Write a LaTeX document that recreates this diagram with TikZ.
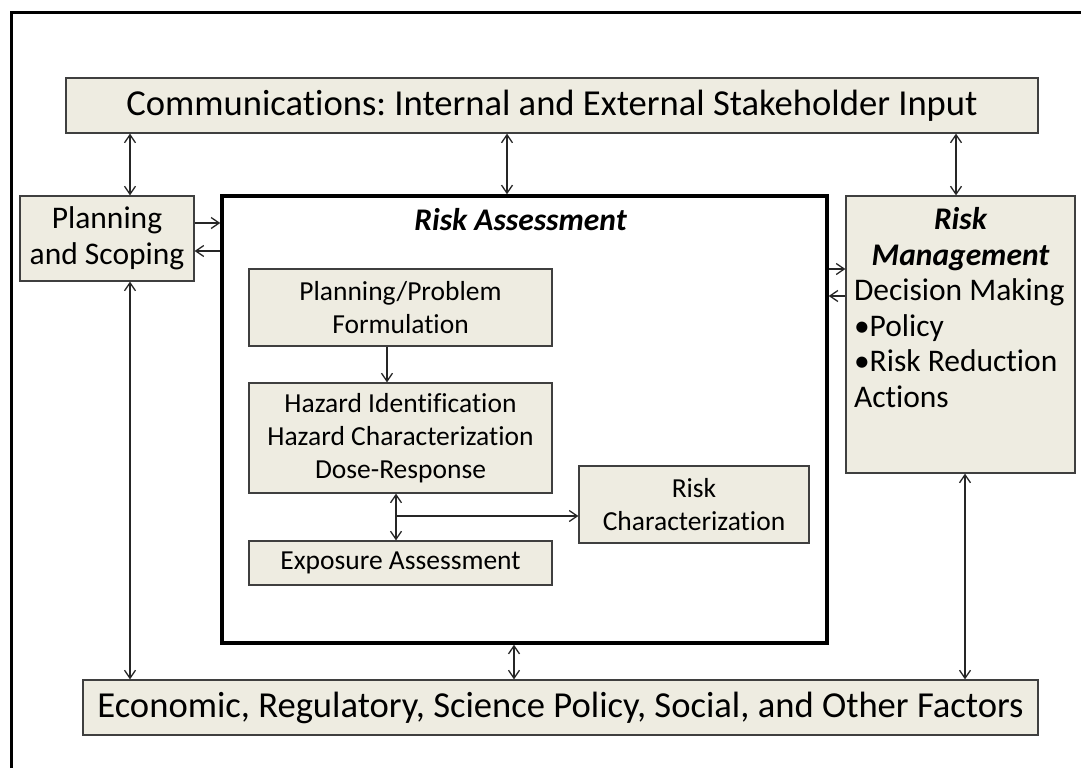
\documentclass[tikz,border=0pt]{standalone}
\usepackage{fontspec}
\setmainfont{Carlito}[Ligatures={NoCommon}]
\usepackage{tikz}
\usetikzlibrary{arrows.meta}
\definecolor{tanfill}{HTML}{EEECE1}
\definecolor{boxline}{HTML}{3F3F3F}
\frenchspacing

\begin{document}
\begin{tikzpicture}[x=1pt,y=1pt,yscale=-1,xscale=1,
    >={Straight Barb[length=8pt,width=11pt]},
    box/.style={draw=boxline,line width=1.3pt,fill=tanfill,inner sep=0pt,align=center},
    bigtext/.style={font=\fontsize{36.6}{44}\selectfont},
    midtext/.style={font=\fontsize{31.5}{35.5}\selectfont},
    smalltext/.style={font=\fontsize{27.5}{33}\selectfont},
    link/.style={line width=1.3pt,draw=black!85}]
    \useasboundingbox (0,0) rectangle (1081,768);

    %Frame
    \draw[line width=3pt] (11,768) -- (11,13) -- (1081,13);

    %Shape: Outer boxes
    \node[box,bigtext,minimum width=972pt,minimum height=55pt] (comm) at (552,105.5)
        {Communications: Internal and External Stakeholder Input};
    \node[box,bigtext,minimum width=955pt,minimum height=55pt] (econ) at (560.5,707.5)
        {Economic, Regulatory, Science Policy, Social, and Other Factors};
    \node[box,midtext,minimum width=174pt,minimum height=85pt] (plan) at (107,238.5)
        {Planning\\and Scoping};
    \node[box,minimum width=229pt,minimum height=277pt,
        label={[midtext,anchor=north,yshift=-12pt,inner sep=0pt,align=left]north:
        \makebox[213pt][c]{\bfseries\itshape Risk}\\
        \makebox[213pt][c]{\bfseries\itshape Management}\\
        Decision Making\\
        \textbullet Policy\\
        \textbullet Risk Reduction\\
        Actions}] (rm) at (960.5,334.5) {};

    %Shape: Risk assessment frame
    \node[draw,line width=3.5pt,minimum width=605pt,minimum height=447pt,inner sep=0pt,
        label={[midtext,anchor=north,yshift=-14pt,xshift=-4pt,inner sep=0pt]north:\bfseries\itshape Risk Assessment}]
        (ra) at (524.5,419.5) {};

    %Shape: Inner boxes
    \node[box,smalltext,minimum width=303pt,minimum height=77pt] (prob) at (400.5,307.5)
        {Planning/Problem\\Formulation};
    \node[box,smalltext,minimum width=303pt,minimum height=110pt] (haz) at (400.5,438)
        {Hazard Identification\\Hazard Characterization\\Dose-Response};
    \node[box,smalltext,minimum width=303pt,minimum height=44pt] (expo) at (400.5,563)
        {Exposure Assessment};
    \node[box,smalltext,minimum width=230pt,minimum height=77pt] (riskc) at (694,504.5)
        {Risk\\Characterization};

    %Columns and rows for the links
    \coordinate (colA) at (130,0);
    \coordinate (colB) at (507,0);
    \coordinate (colC) at (956,0);
    \coordinate (colD) at (514,0);
    \coordinate (colE) at (965,0);
    \coordinate (colF) at (387,0);
    \coordinate (colG) at (396,0);
    \coordinate (rowA) at (0,223);
    \coordinate (rowB) at (0,251);
    \coordinate (rowC) at (0,269);
    \coordinate (rowD) at (0,296);
    \coordinate (rowE) at (0,516);

    %Straight Lines
    \draw[link,<->] (comm.south -| colA) -- (plan.north -| colA);
    \draw[link,<->] (plan.south -| colA) -- (econ.north -| colA);
    \draw[link,<->] (comm.south -| colB) -- (ra.north -| colB);
    \draw[link,<->] (comm.south -| colC) -- (rm.north -| colC);
    \draw[link,<->] (ra.south -| colD) -- (econ.north -| colD);
    \draw[link,<->] (rm.south -| colE) -- (econ.north -| colE);
    \draw[link,->] (plan.east |- rowA) -- (ra.west |- rowA);
    \draw[link,->] (ra.west |- rowB) -- (plan.east |- rowB);
    \draw[link,->] (ra.east |- rowC) -- (rm.west |- rowC);
    \draw[link,->] (rm.west |- rowD) -- (ra.east |- rowD);
    \draw[link,->] (prob.south -| colF) -- (haz.north -| colF);
    \draw[link,<->] (haz.south -| colG) -- (expo.north -| colG);
    \draw[link,->] (colG |- rowE) -- (riskc.west |- rowE);
\end{tikzpicture}
\end{document}
